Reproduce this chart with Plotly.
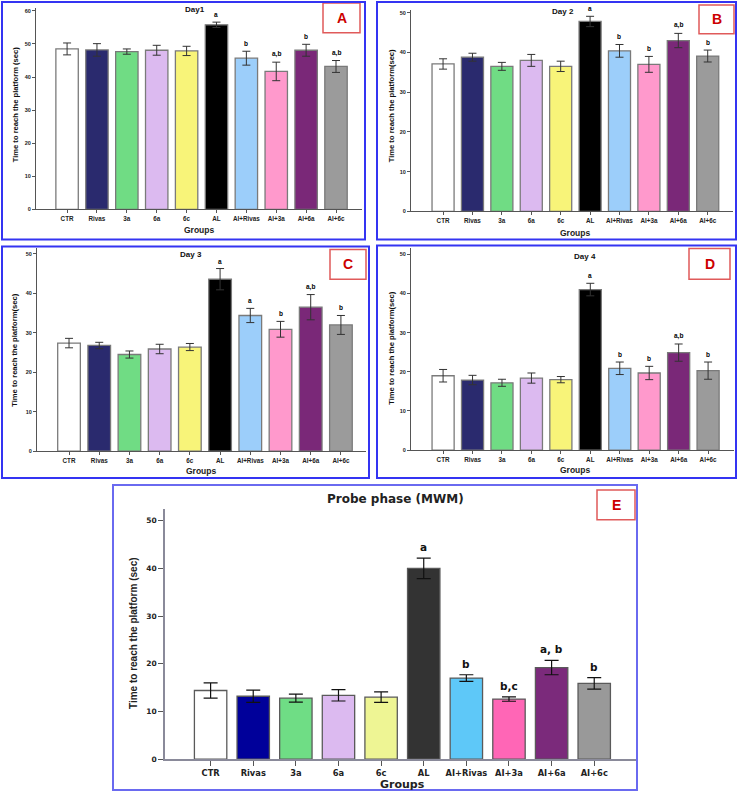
import plotly.graph_objects as go

W, H = 738, 796

groups = ["CTR", "Rivas", "3a", "6a", "6c", "AL", "AI+Rivas", "AI+3a", "AI+6a", "AI+6c"]

day1_mean = [48.5, 48.2, 47.7, 48.1, 47.9, 55.8, 45.7, 41.7, 48.1, 43.2]
day1_sem = [1.8, 1.9, 0.8, 1.5, 1.4, 0.8, 2.1, 2.8, 1.8, 1.8]
day1_sig = ["", "", "", "", "", "a", "b", "a,b", "b", "a,b"]

day2_mean = [37.1, 38.8, 36.5, 38.0, 36.5, 47.8, 40.4, 37.0, 43.0, 39.1]
day2_sem = [1.3, 1.0, 1.0, 1.5, 1.3, 1.3, 1.6, 2.0, 1.8, 1.5]
day2_sig = ["", "", "", "", "", "a", "b", "b", "a,b", "b"]

day3_mean = [27.4, 26.8, 24.5, 25.9, 26.4, 43.6, 34.4, 30.9, 36.5, 32.0]
day3_sem = [1.2, 0.8, 0.9, 1.2, 0.9, 2.7, 1.8, 2.0, 3.2, 2.4]
day3_sig = ["", "", "", "", "", "a", "a", "b", "a,b", "b"]

day4_mean = [19.0, 17.9, 17.2, 18.4, 18.0, 41.0, 20.9, 19.7, 24.9, 20.3]
day4_sem = [1.6, 1.2, 0.9, 1.3, 0.8, 1.6, 1.6, 1.7, 2.2, 2.2]
day4_sig = ["", "", "", "", "", "a", "b", "b", "a,b", "b"]

probe_mean = [14.4, 13.2, 12.8, 13.4, 13.0, 40.0, 17.0, 12.6, 19.2, 15.9]
probe_sem = [1.6, 1.3, 0.85, 1.2, 1.1, 2.15, 0.7, 0.45, 1.5, 1.2]
probe_sig = ["", "", "", "", "", "a", "b", "b,c", "a, b", "b"]

yticks_60 = [0, 10, 20, 30, 40, 50, 60]
yticks_50 = [0, 10, 20, 30, 40, 50]

# ---- styles ----
colors_day = ["#ffffff", "#2a2a6e", "#70dc84", "#dcbaf0", "#f8f479", "#000000",
              "#9ccefa", "#ff99cc", "#7a2878", "#9b9b9b"]
colors_probe = ["#ffffff", "#00009a", "#6fdd85", "#dcbaf0", "#eef594", "#333333",
                "#5ec8f8", "#ff66b6", "#7b2a7b", "#999999"]

FA = "Liberation Sans"
FE = "DejaVu Sans"


def px_x(a, b):
    return [a / W, b / W]


def px_y(top, bottom):
    return [1 - bottom / H, 1 - top / H]


def paper_text(x, y, text, font, angle=0):
    return dict(x=x / W, y=1 - y / H, xref="paper", yref="paper", text=text,
                showarrow=False, xanchor="center", yanchor="middle", textangle=angle,
                font=font)


panels = [
    dict(n="", mean=day1_mean, sem=day1_sem, sig=day1_sig, col=colors_day,
         xd=(36, 362), xr=(-1.04, 9.87), yd=(8.3, 210.7), yr=(0, 60.8), yt=yticks_60,
         title="Day1", tpos=(195, 10), ylab="Time to reach the platform (sec)", ypos=(15, 105),
         gpos=(199, 231), box=(323, 3, 360, 33), letter="A", border=(2, 2, 365, 241)),
    dict(n="2", mean=day2_mean, sem=day2_sem, sig=day2_sig, col=colors_day,
         xd=(411, 733), xr=(-1.09, 9.86), yd=(10, 212.7), yr=(0, 50.7), yt=yticks_50,
         title="Day 2", tpos=(563, 12), ylab="Time to reach the platform(sec)", ypos=(391, 107),
         gpos=(575, 234), box=(699, 5, 734, 34), letter="B", border=(377, 2, 736, 241)),
    dict(n="3", mean=day3_mean, sem=day3_sem, sig=day3_sig, col=colors_day,
         xd=(37, 366), xr=(-1.06, 9.83), yd=(250, 454), yr=(0, 51.4), yt=yticks_50,
         title="Day 3", tpos=(191, 256), ylab="Time to reach the platform(sec)", ypos=(15, 353),
         gpos=(201, 474), box=(330, 251, 366, 281), letter="C", border=(2, 248, 369, 481)),
    dict(n="4", mean=day4_mean, sem=day4_sem, sig=day4_sig, col=colors_day,
         xd=(411, 734), xr=(-1.09, 9.88), yd=(250, 453), yr=(0, 51.5), yt=yticks_50,
         title="Day 4", tpos=(585, 258), ylab="Time to reach the platform(sec)", ypos=(392, 351),
         gpos=(575, 473), box=(689, 250, 730, 281), letter="D", border=(377, 247, 736, 481)),
]

fig = go.Figure()
annotations = []
shapes = []
layout_axes = {}

for p in panels:
    n = p["n"]
    xa = "x" + n
    ya = "y" + n
    fig.add_trace(go.Bar(
        x=list(range(len(groups))), y=p["mean"], xaxis=xa, yaxis=ya,
        width=0.75,
        marker=dict(color=p["col"], line=dict(color="#7a7a7a", width=1.3)),
        error_y=dict(type="data", array=p["sem"], color="#333333", thickness=1, width=4),
        showlegend=False, hoverinfo="skip",
    ))
    ax_common = dict(showline=True, linecolor="#555555", linewidth=1.2, ticks="outside",
                     ticklen=3, tickcolor="#555555", showgrid=False, zeroline=False)
    layout_axes["xaxis" + n] = dict(
        domain=px_x(*p["xd"]), range=list(p["xr"]), anchor=ya,
        tickvals=list(range(len(groups))), ticktext=groups,
        tickfont=dict(family=FA, size=6.3, color="#222", weight="bold"), **ax_common)
    layout_axes["yaxis" + n] = dict(
        domain=px_y(*p["yd"]), range=list(p["yr"]), anchor=xa,
        tickvals=p["yt"], tickfont=dict(family=FA, size=5.5, color="#222", weight="bold"),
        **ax_common)
    for i, s in enumerate(p["sig"]):
        if s:
            annotations.append(dict(x=i, y=p["mean"][i] + p["sem"][i], xref=xa, yref=ya,
                                    text="<b>" + s + "</b>", showarrow=False, yanchor="bottom",
                                    xanchor="center", yshift=2,
                                    font=dict(family=FA, size=6.5, color="#000000")))
    annotations.append(paper_text(*p["tpos"], "<b>" + p["title"] + "</b>",
                                  dict(family=FA, size=8, color="#111")))
    annotations.append(paper_text(*p["ypos"], "<b>" + p["ylab"] + "</b>",
                                  dict(family=FA, size=7.6, color="#111"), angle=-90))
    annotations.append(paper_text(*p["gpos"], "<b>Groups</b>",
                                  dict(family=FA, size=8.5, color="#222")))
    bx0, by0, bx1, by1 = p["box"]
    shapes.append(dict(type="rect", xref="paper", yref="paper", x0=bx0 / W, x1=bx1 / W,
                       y0=1 - by1 / H, y1=1 - by0 / H, line=dict(color="#e05a5a", width=1.5)))
    annotations.append(paper_text((bx0 + bx1) / 2, (by0 + by1) / 2, "<b>" + p["letter"] + "</b>",
                                  dict(family=FA, size=14, color="#cc0000")))
    l, t, r, b = p["border"]
    shapes.append(dict(type="rect", xref="paper", yref="paper", x0=l / W, x1=r / W,
                       y0=1 - b / H, y1=1 - t / H, line=dict(color="#3434f2", width=2)))

# ---- Panel E (probe) ----
fig.add_trace(go.Bar(
    x=list(range(len(groups))), y=probe_mean, xaxis="x5", yaxis="y5",
    width=0.76,
    marker=dict(color=colors_probe, line=dict(color="#5a5a5a", width=1.3)),
    error_y=dict(type="data", array=probe_sem, color="#111111", thickness=1.2, width=7),
    showlegend=False, hoverinfo="skip",
))
axE = dict(showline=True, linecolor="#8a8a9a", linewidth=1.5, ticks="outside", ticklen=5,
           tickcolor="#555", showgrid=False, zeroline=False)
layout_axes["xaxis5"] = dict(domain=px_x(165, 636), range=[-1.07, 9.98], anchor="y5",
                             tickvals=list(range(len(groups))), ticktext=groups,
                             tickfont=dict(family=FE, size=8.3, color="#222", weight="bold"), **axE)
layout_axes["yaxis5"] = dict(domain=px_y(512, 764), range=[0, 52.5], anchor="x5",
                             tickvals=yticks_50,
                             tickfont=dict(family=FE, size=7.5, color="#222", weight="bold"), **axE)
for i, s in enumerate(probe_sig):
    if s:
        annotations.append(dict(x=i, y=probe_mean[i] + probe_sem[i], xref="x5", yref="y5",
                                text="<b>" + s + "</b>", showarrow=False, yanchor="bottom",
                                xanchor="center", yshift=3,
                                font=dict(family=FE, size=10.5, color="#111")))
annotations.append(paper_text(395, 502, "<b>Probe phase (MWM)</b>",
                              dict(family=FE, size=12, color="#222")))
annotations.append(paper_text(134, 637, "<b>Time to reach the platform (sec)</b>",
                              dict(family=FA, size=10, color="#222"), angle=-90))
annotations.append(paper_text(402, 789, "<b>Groups</b>",
                              dict(family=FE, size=11, color="#222")))
shapes.append(dict(type="rect", xref="paper", yref="paper", x0=597 / W, x1=635 / W,
                   y0=1 - 523 / H, y1=1 - 493 / H, line=dict(color="#e05a5a", width=1.5)))
annotations.append(paper_text(616, 508, "<b>E</b>", dict(family=FA, size=14, color="#cc0000")))
shapes.append(dict(type="rect", xref="paper", yref="paper", x0=113 / W, x1=637 / W,
                   y0=1 - 795 / H, y1=1 - 488 / H, line=dict(color="#6a6af0", width=2)))

fig.update_layout(
    width=W, height=H, margin=dict(l=0, r=0, t=0, b=0),
    paper_bgcolor="white", plot_bgcolor="rgba(0,0,0,0)",
    annotations=annotations, shapes=shapes, bargap=0.25,
    **layout_axes,
)

fig.write_html("out.html")
